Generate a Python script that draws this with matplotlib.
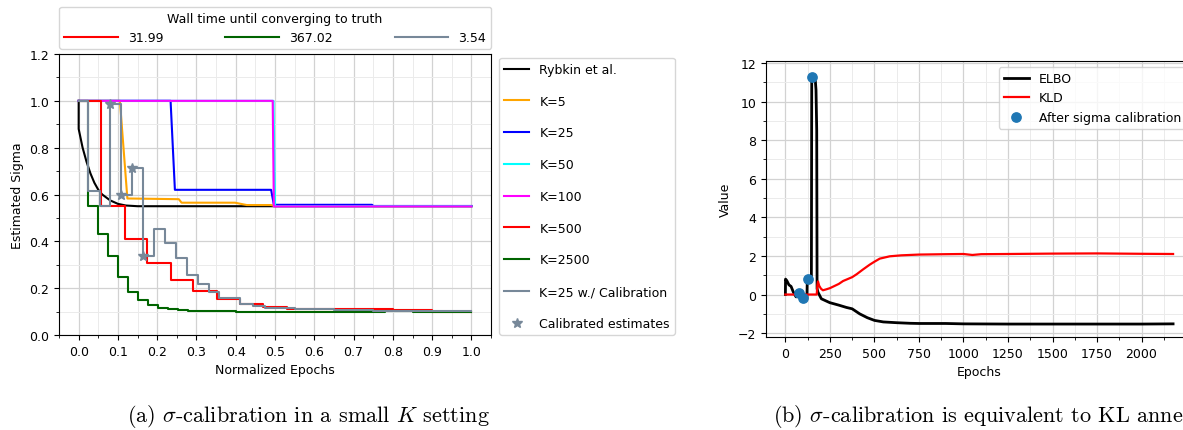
import matplotlib
matplotlib.use("Agg")
import matplotlib.pyplot as plt
from matplotlib.ticker import MultipleLocator, FixedLocator

plt.rcParams["font.family"] = ["DejaVu Sans"]
plt.rcParams["font.size"] = 9
plt.rcParams["mathtext.fontset"] = "cm"

# ---------------- (a) sigma estimates over normalized epochs ----------------
rybkin_x = [0.0, 0.0, 0.005, 0.01, 0.02, 0.03, 0.04, 0.05, 0.06, 0.08, 0.10, 0.12, 0.15, 1.0]
rybkin_y = [1.0, 0.88, 0.84, 0.80, 0.74, 0.69, 0.65, 0.62, 0.60, 0.575, 0.56, 0.553, 0.55, 0.55]

k5_x = [0.0, 0.105, 0.124, 0.255, 0.262, 0.398, 0.428, 0.49, 0.50, 1.0]
k5_y = [1.0, 1.0, 0.583, 0.58, 0.565, 0.565, 0.555, 0.555, 0.55, 0.55]

k25_x = [0.0, 0.234, 0.245, 0.49, 0.497, 0.747, 0.75, 1.0]
k25_y = [1.0, 1.0, 0.62, 0.62, 0.556, 0.556, 0.551, 0.551]

k50_x = [0.0, 0.496, 0.50, 1.0]
k50_y = [1.0, 1.0, 0.55, 0.55]

k100_x = [0.0, 0.494, 0.497, 1.0]
k100_y = [1.0, 1.0, 0.549, 0.549]

# step changes (value holds until the next breakpoint)
k500_x = [0.0, 0.056, 0.117, 0.175, 0.235, 0.292, 0.353, 0.411, 0.47, 0.53, 0.66, 0.80, 0.90, 1.0]
k500_y = [1.0, 0.55, 0.409, 0.306, 0.235, 0.188, 0.152, 0.131, 0.118, 0.113, 0.11, 0.105, 0.10, 0.10]

k2500_x = [0.0, 0.025, 0.05, 0.075, 0.10, 0.126, 0.151, 0.177, 0.202, 0.228, 0.253, 0.279, 0.40, 0.60, 0.78, 0.85, 1.0]
k2500_y = [1.0, 0.55, 0.432, 0.336, 0.247, 0.185, 0.148, 0.129, 0.117, 0.111, 0.105, 0.101, 0.099, 0.10, 0.104, 0.10, 0.10]

calib_x = [0.0, 0.025, 0.054, 0.08, 0.107, 0.137, 0.164, 0.192, 0.219, 0.247, 0.275, 0.303,
           0.332, 0.358, 0.412, 0.443, 0.474, 0.55, 0.65, 0.75, 0.85, 1.0]
calib_y = [1.0, 0.615, 0.55, 0.985, 0.60, 0.714, 0.339, 0.452, 0.392, 0.329, 0.257, 0.216,
           0.182, 0.159, 0.134, 0.124, 0.116, 0.11, 0.106, 0.104, 0.102, 0.103]
calib_star_idx = [3, 4, 5, 6]

wall_times = ["31.99", "367.02", "3.54"]

# ---------------- (b) ELBO / KLD over epochs ----------------
elbo_ep = [0, 1, 8, 20, 32, 45, 60, 70, 76, 85, 95, 99, 110, 121, 123, 127, 140, 146, 148, 152,
           160, 168, 172, 176, 178, 183, 202, 249, 300, 343, 375, 417, 460, 500, 550, 625, 700,
           750, 900, 1000, 1250, 1500, 1750, 2000, 2177]
elbo_val = [0.0, 0.8, 0.72, 0.5, 0.42, 0.12, -0.12, -0.1, 0.07, -0.05, -0.15, -0.19, -0.2, -0.2,
            0.78, 0.8, 0.8, 0.8, 11.1, 11.25, 11.2, 11.1, 10.6, 8.5, 0.3, 0.12, -0.22, -0.42,
            -0.55, -0.67, -0.74, -1.0, -1.2, -1.34, -1.42, -1.46, -1.49, -1.5, -1.5, -1.52,
            -1.53, -1.53, -1.53, -1.53, -1.52]

kld_ep = [0, 176, 180, 183, 190, 200, 211, 230, 250, 300, 324, 375, 400, 436, 474, 500, 530,
          586, 650, 750, 900, 1000, 1050, 1100, 1250, 1500, 1750, 2000, 2177]
kld_val = [0.0, 0.0, 0.5, 0.68, 0.45, 0.3, 0.22, 0.27, 0.33, 0.55, 0.7, 0.9, 1.05, 1.3, 1.55,
           1.7, 1.86, 1.98, 2.03, 2.07, 2.09, 2.1, 2.05, 2.09, 2.1, 2.12, 2.13, 2.11, 2.1]

cal_ep = [76, 99, 127, 152]
cal_val = [0.07, -0.19, 0.8, 11.25]

epoch_ticks = [0, 250, 500, 750, 1000, 1250, 1500, 1750, 2000]

GRAY = "#778899"

fig = plt.figure(figsize=(11.83, 4.31), dpi=100)
ax1 = fig.add_axes([0.0499, 0.2204, 0.3652, 0.652])
ax2 = fig.add_axes([0.6475, 0.2158, 0.3605, 0.6404])


def style_grid(ax):
    ax.set_axisbelow(True)
    ax.grid(which="major", color="#d2d2d2", lw=0.9)
    ax.grid(which="minor", color="#ebebeb", lw=0.7)


lw = 1.5
ax1.plot(rybkin_x, rybkin_y, color="black", lw=lw, label="Rybkin et al.")
ax1.plot(k5_x, k5_y, color="orange", lw=lw, label="K=5")
ax1.plot(k25_x, k25_y, color="blue", lw=lw, label="K=25")
ax1.plot(k50_x, k50_y, color="cyan", lw=lw, label="K=50")
ax1.plot(k100_x, k100_y, color="magenta", lw=lw, label="K=100")
l500, = ax1.plot(k500_x, k500_y, color="red", lw=lw, drawstyle="steps-post", label="K=500")
l2500, = ax1.plot(k2500_x, k2500_y, color="darkgreen", lw=lw, drawstyle="steps-post", label="K=2500")
lcal, = ax1.plot(calib_x, calib_y, color=GRAY, lw=lw, drawstyle="steps-post", label="K=25 w./ Calibration")
ax1.plot([calib_x[i] for i in calib_star_idx], [calib_y[i] for i in calib_star_idx],
         ls="none", marker="*", ms=7, color=GRAY, label="Calibrated estimates")

ax1.set_ylim(0, 1.2)
ax1.xaxis.set_major_locator(MultipleLocator(0.1))
ax1.xaxis.set_minor_locator(MultipleLocator(0.05))
ax1.yaxis.set_major_locator(MultipleLocator(0.2))
ax1.yaxis.set_minor_locator(MultipleLocator(0.1))
style_grid(ax1)
ax1.set_xlabel("Normalized Epochs")
ax1.set_ylabel("Estimated Sigma")

leg_side = ax1.legend(loc="upper left", bbox_to_anchor=(1.019, 0.986), borderaxespad=0,
                      labelspacing=1.5, fontsize=9)
ax1.add_artist(leg_side)
ax1.legend([l500, l2500, lcal], wall_times, title="Wall time until converging to truth",
           loc="lower left", bbox_to_anchor=(0, 1.018, 1, 0.15), mode="expand", ncol=3,
           borderaxespad=0, handlelength=4.3, fontsize=9, title_fontsize=9)

ax2.plot(elbo_ep, elbo_val, color="black", lw=2.0, label="ELBO")
ax2.plot(kld_ep, kld_val, color="red", lw=1.6, label="KLD")
ax2.scatter(cal_ep, cal_val, s=45, color="#1f77b4", zorder=3, label="After sigma calibration")
ax2.set_ylim(-2.2, 12.1)
ax2.xaxis.set_major_locator(FixedLocator(epoch_ticks))
ax2.xaxis.set_minor_locator(MultipleLocator(125))
ax2.yaxis.set_major_locator(MultipleLocator(2))
ax2.yaxis.set_minor_locator(MultipleLocator(1))
style_grid(ax2)
ax2.set_xlabel("Epochs")
ax2.set_ylabel("Value")
ax2.legend(loc="upper right", fontsize=9)

fig.text(0.2604, 0.0325, r"(a) $\sigma$-calibration in a small $K$ setting",
         family="cmr10", fontsize=16, ha="center", va="center")
fig.text(0.6534, 0.0325, r"(b) $\sigma$-calibration is equivalent to KL annealing",
         family="cmr10", fontsize=16, ha="left", va="center")

fig.savefig("out.png", dpi=100)
